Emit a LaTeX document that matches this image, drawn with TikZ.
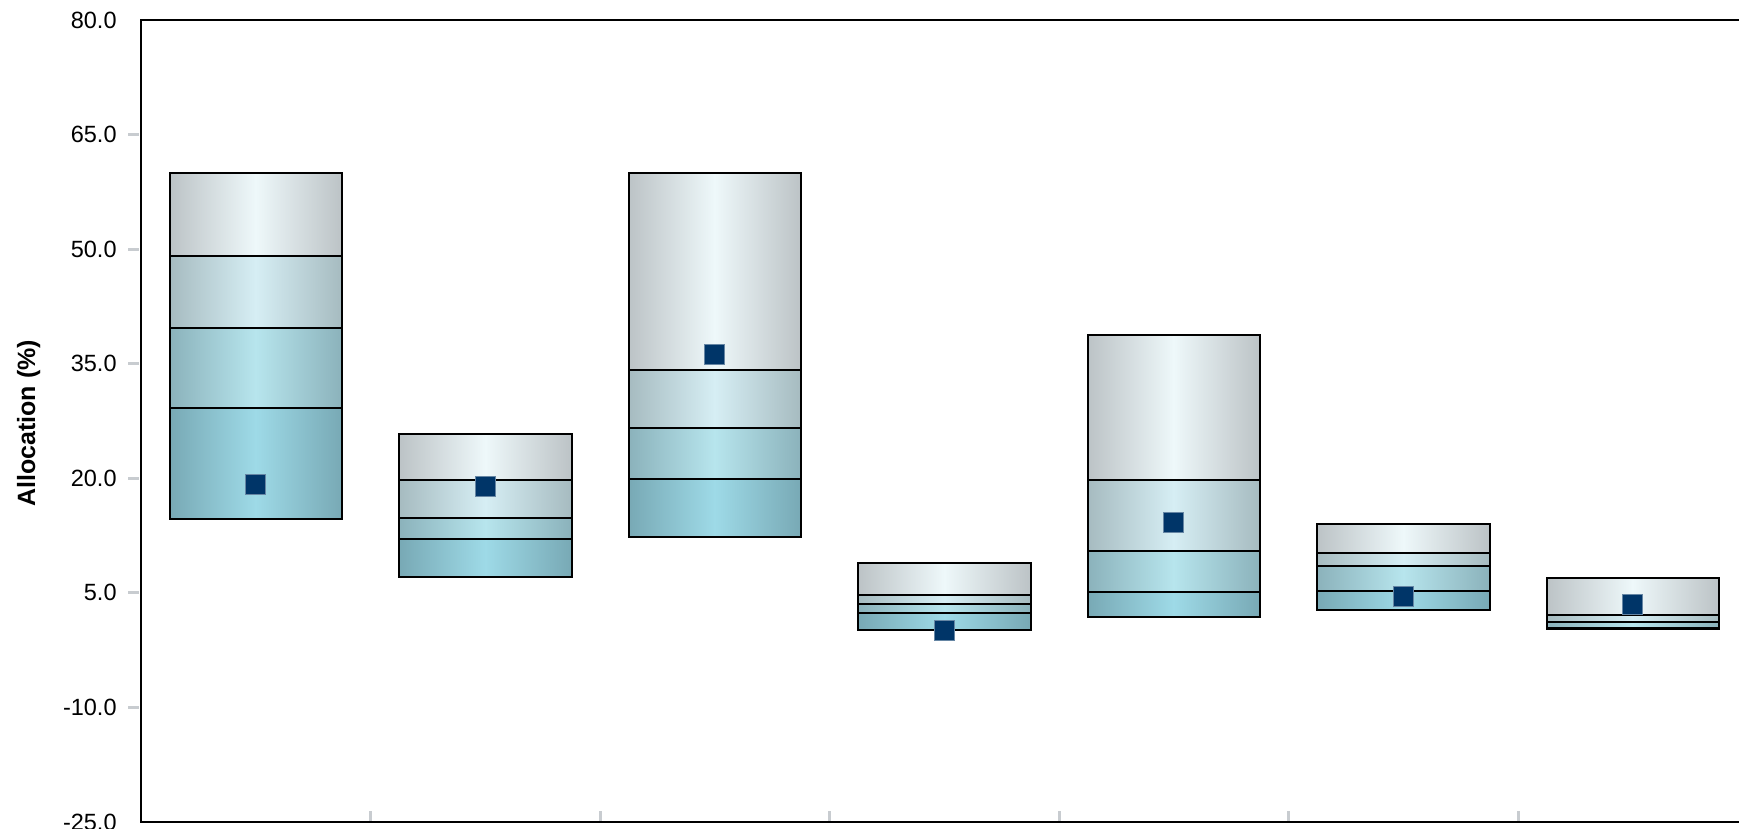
\documentclass[tikz,border=0pt]{standalone}
\usepackage{fontspec}
\setmainfont{Liberation Sans}
\usepackage{tikz}
\definecolor{bandAedge}{RGB}{188,195,198}
\definecolor{bandAmid}{RGB}{238,248,250}
\definecolor{bandBedge}{RGB}{166,187,192}
\definecolor{bandBmid}{RGB}{214,238,244}
\definecolor{bandCedge}{RGB}{139,178,187}
\definecolor{bandCmid}{RGB}{183,229,237}
\definecolor{bandDedge}{RGB}{120,169,181}
\definecolor{bandDmid}{RGB}{158,218,231}
\definecolor{navy}{RGB}{0,53,104}
\definecolor{tickgray}{RGB}{200,204,208}
\tikzset{
    bandA/.style={
           draw=black, line width=1pt,
           left color=bandAedge, right color=bandAedge, middle color=bandAmid
           },
    bandB/.style={
           draw=black, line width=1pt,
           left color=bandBedge, right color=bandBedge, middle color=bandBmid
           },
    bandC/.style={
           draw=black, line width=1pt,
           left color=bandCedge, right color=bandCedge, middle color=bandCmid
           },
    bandD/.style={
           draw=black, line width=1pt,
           left color=bandDedge, right color=bandDedge, middle color=bandDmid
           },
    marker/.style={
           rectangle,
           fill=navy, draw=navy!60!white, line width=0.3pt,
           minimum size=10pt,
           inner sep=0pt
           },
    ticklabel/.style={
           anchor=east,
           inner sep=0pt,
           font=\fontsize{11.75pt}{14pt}\selectfont
           },
    axislabel/.style={
           rotate=90,
           anchor=base,
           inner sep=0pt,
           font=\fontsize{12.5pt}{14pt}\selectfont\bfseries
           },
    tickmark/.style={draw=tickgray, line width=1.5pt},
    axisline/.style={draw=black, line width=1pt},
}
\begin{document}
\begin{tikzpicture}[x=0.5pt,y=3.819pt]
             \useasboundingbox (0,-25.79) rectangle (1739,82.62);

             % value axis
             \node[ticklabel] (y80) at (117,80) {80.0};
             \node[ticklabel] (y65) at (117,65) {65.0};
             \node[ticklabel] (y50) at (117,50) {50.0};
             \node[ticklabel] (y35) at (117,35) {35.0};
             \node[ticklabel] (y20) at (117,20) {20.0};
             \node[ticklabel] (y5)  at (117,5)  {5.0};
             \node[ticklabel] (ym10) at (117,-10) {-10.0};
             \node[ticklabel] (ym25) at (117,-25) {-25.0};
             \node[axislabel] (ylab) at (35,27.2) {Allocation (\%)};

             \draw[tickmark] (128,65) -- (139,65);
             \draw[tickmark] (128,50) -- (139,50);
             \draw[tickmark] (128,35) -- (139,35);
             \draw[tickmark] (128,20) -- (139,20);
             \draw[tickmark] (128,5) -- (139,5);
             \draw[tickmark] (128,-10) -- (139,-10);

             % category ticks
             \draw[tickmark] (370.5,-25) -- ++(0,1.45);
             \draw[tickmark] (600,-25) -- ++(0,1.45);
             \draw[tickmark] (829.5,-25) -- ++(0,1.45);
             \draw[tickmark] (1059,-25) -- ++(0,1.45);
             \draw[tickmark] (1288.5,-25) -- ++(0,1.45);
             \draw[tickmark] (1518,-25) -- ++(0,1.45);

             % frame
             \coordinate (TL) at (140.5,80);
             \coordinate (BL) at (140.5,-25);
             \coordinate (TR) at (1745,80);
             \coordinate (BR) at (1745,-25);
             \draw[axisline] (TR) -- (TL) -- (BL) -- (BR);

             % bar 1
             \path[bandA] (169.5,60) rectangle (342,49.15);
             \path[bandB] (169.5,49.15) rectangle (342,39.7);
             \path[bandC] (169.5,39.7) rectangle (342,29.25);
             \path[bandD] (169.5,29.25) rectangle (342,14.67);
             \node[marker] (m1) at (255.75,19.2) {};

             % bar 2
             \path[bandA] (399,25.8) rectangle (571.5,19.8);
             \path[bandB] (399,19.8) rectangle (571.5,14.85);
             \path[bandC] (399,14.85) rectangle (571.5,12.05);
             \path[bandD] (399,12.05) rectangle (571.5,7.1);
             \node[marker] (m2) at (485.25,18.9) {};

             % bar 3
             \path[bandA] (628.5,60) rectangle (801,34.2);
             \path[bandB] (628.5,34.2) rectangle (801,26.6);
             \path[bandC] (628.5,26.6) rectangle (801,19.9);
             \path[bandD] (628.5,19.9) rectangle (801,12.3);
             \node[marker] (m3) at (714.75,36.2) {};

             % bar 4
             \path[bandA] (858,8.85) rectangle (1030.5,4.7);
             \path[bandB] (858,4.7) rectangle (1030.5,3.6);
             \path[bandC] (858,3.6) rectangle (1030.5,2.3);
             \path[bandD] (858,2.3) rectangle (1030.5,0.2);
             \node[marker] (m4) at (944.25,0.1) {};

             % bar 5
             \path[bandA] (1087.5,38.8) rectangle (1260,19.8);
             \path[bandB] (1087.5,19.8) rectangle (1260,10.5);
             \path[bandC] (1087.5,10.5) rectangle (1260,5.15);
             \path[bandD] (1087.5,5.15) rectangle (1260,1.9);
             \node[marker] (m5) at (1173.75,14.2) {};

             % bar 6
             \path[bandA] (1317,14.0) rectangle (1489.5,10.2);
             \path[bandB] (1317,10.2) rectangle (1489.5,8.55);
             \path[bandC] (1317,8.55) rectangle (1489.5,5.24);
             \path[bandD] (1317,5.24) rectangle (1489.5,2.7);
             \node[marker] (m6) at (1403.25,4.55) {};

             % bar 7
             \path[bandA] (1546.5,7.0) rectangle (1719,2.1);
             \path[bandB] (1546.5,2.1) rectangle (1719,1.2);
             \path[bandC] (1546.5,1.2) rectangle (1719,0.45);
             \path[bandD] (1546.5,0.45) rectangle (1719,0.25);
             \node[marker] (m7) at (1632.75,3.5) {};

\end{tikzpicture}
\end{document}
